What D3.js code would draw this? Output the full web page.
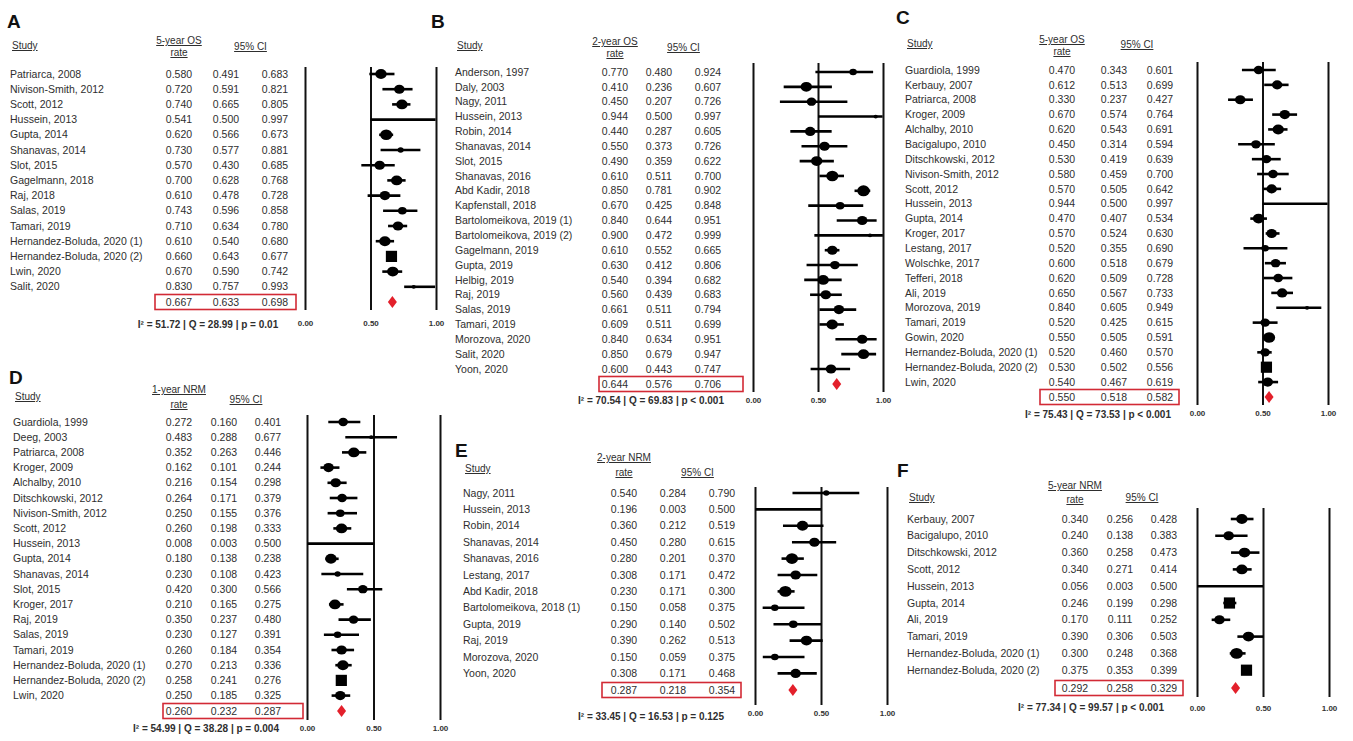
<!DOCTYPE html>
<html>
<head>
<meta charset="utf-8">
<script src="https://cdn.jsdelivr.net/npm/d3@7"></script>
<style>
  body { margin: 0; background: #fff; }
  svg text { font-family: "Liberation Sans", Arial, sans-serif; fill: #2e2e2e; }
  .letter { font-size: 19px; font-weight: bold; fill: #111; }
  .hdr { font-size: 10px; text-decoration: underline; }
  .cell { font-size: 10.5px; }
  .stat { font-size: 10px; font-weight: bold; }
  .tick text { font-size: 8px; font-weight: bold; fill: #333; }
</style>
</head>
<body>
<svg id="chart" width="1353" height="741"></svg>
<script>
// ---- data ----
const tickVals = [0, 0.5, 1];

// A: 5-year OS
const aStudies = ['Patriarca, 2008', 'Nivison-Smith, 2012', 'Scott, 2012', 'Hussein, 2013', 'Gupta, 2014',
  'Shanavas, 2014', 'Slot, 2015', 'Gagelmann, 2018', 'Raj, 2018', 'Salas, 2019', 'Tamari, 2019',
  'Hernandez-Boluda, 2020 (1)', 'Hernandez-Boluda, 2020 (2)', 'Lwin, 2020', 'Salit, 2020'];
const aRate = [0.580, 0.720, 0.740, 0.541, 0.620, 0.730, 0.570, 0.700, 0.610, 0.743, 0.710, 0.610, 0.660, 0.670, 0.830];
const aLo   = [0.491, 0.591, 0.665, 0.500, 0.566, 0.577, 0.430, 0.628, 0.478, 0.596, 0.634, 0.540, 0.643, 0.590, 0.757];
const aHi   = [0.683, 0.821, 0.805, 0.997, 0.673, 0.881, 0.685, 0.768, 0.728, 0.858, 0.780, 0.680, 0.677, 0.742, 0.993];
const aWt   = [7, 6, 7, 0, 8, 2, 6, 7, 6, 4, 6, 7, 9, 7, 1];
const aPooled = [0.667, 0.633, 0.698];
const aStats = 'I² = 51.72 | Q = 28.99 | p = 0.01';

// B: 2-year OS
const bStudies = ['Anderson, 1997', 'Daly, 2003', 'Nagy, 2011', 'Hussein, 2013', 'Robin, 2014', 'Shanavas, 2014',
  'Slot, 2015', 'Shanavas, 2016', 'Abd Kadir, 2018', 'Kapfenstall, 2018', 'Bartolomeikova, 2019 (1)',
  'Bartolomeikova, 2019 (2)', 'Gagelmann, 2019', 'Gupta, 2019', 'Helbig, 2019', 'Raj, 2019', 'Salas, 2019',
  'Tamari, 2019', 'Morozova, 2020', 'Salit, 2020', 'Yoon, 2020'];
const bRate = [0.770, 0.410, 0.450, 0.944, 0.440, 0.550, 0.490, 0.610, 0.850, 0.670, 0.840, 0.900, 0.610, 0.630, 0.540, 0.560, 0.661, 0.609, 0.840, 0.850, 0.600];
const bLo   = [0.480, 0.236, 0.207, 0.500, 0.287, 0.373, 0.359, 0.511, 0.781, 0.425, 0.644, 0.472, 0.552, 0.412, 0.394, 0.439, 0.511, 0.511, 0.634, 0.679, 0.443];
const bHi   = [0.924, 0.607, 0.726, 0.997, 0.605, 0.726, 0.622, 0.700, 0.902, 0.848, 0.951, 0.999, 0.665, 0.806, 0.682, 0.683, 0.794, 0.699, 0.951, 0.947, 0.747];
const bWt   = [3, 7, 5, 1, 6, 6, 7, 8, 8.5, 4, 6, 1, 6, 5, 7, 6, 6, 7, 6, 7, 6];
const bPooled = [0.644, 0.576, 0.706];
const bStats = 'I² = 70.54 | Q = 69.83 | p < 0.001';

// C: 5-year OS
const cStudies = ['Guardiola, 1999', 'Kerbauy, 2007', 'Patriarca, 2008', 'Kroger, 2009', 'Alchalby, 2010',
  'Bacigalupo, 2010', 'Ditschkowski, 2012', 'Nivison-Smith, 2012', 'Scott, 2012', 'Hussein, 2013', 'Gupta, 2014',
  'Kroger, 2017', 'Lestang, 2017', 'Wolschke, 2017', 'Tefferi, 2018', 'Ali, 2019', 'Morozova, 2019',
  'Tamari, 2019', 'Gowin, 2020', 'Hernandez-Boluda, 2020 (1)', 'Hernandez-Boluda, 2020 (2)', 'Lwin, 2020'];
const cRate = [0.470, 0.612, 0.330, 0.670, 0.620, 0.450, 0.530, 0.580, 0.570, 0.944, 0.470, 0.570, 0.520, 0.600, 0.620, 0.650, 0.840, 0.520, 0.550, 0.520, 0.530, 0.540];
const cLo   = [0.343, 0.513, 0.237, 0.574, 0.543, 0.314, 0.419, 0.459, 0.505, 0.500, 0.407, 0.524, 0.355, 0.518, 0.509, 0.567, 0.605, 0.425, 0.505, 0.460, 0.502, 0.467];
const cHi   = [0.601, 0.699, 0.427, 0.764, 0.691, 0.594, 0.639, 0.700, 0.642, 0.997, 0.534, 0.630, 0.690, 0.679, 0.728, 0.733, 0.949, 0.615, 0.591, 0.570, 0.556, 0.619];
const cWt   = [5, 6, 6, 6, 7, 5, 5, 5, 6, 0, 7, 6, 3, 5, 5, 6, 1, 5, 8, 5, 9, 6];
const cPooled = [0.550, 0.518, 0.582];
const cStats = 'I² = 75.43 | Q = 73.53 | p < 0.001';

// D: 1-year NRM
const dStudies = ['Guardiola, 1999', 'Deeg, 2003', 'Patriarca, 2008', 'Kroger, 2009', 'Alchalby, 2010',
  'Ditschkowski, 2012', 'Nivison-Smith, 2012', 'Scott, 2012', 'Hussein, 2013', 'Gupta, 2014', 'Shanavas, 2014',
  'Slot, 2015', 'Kroger, 2017', 'Raj, 2019', 'Salas, 2019', 'Tamari, 2019', 'Hernandez-Boluda, 2020 (1)',
  'Hernandez-Boluda, 2020 (2)', 'Lwin, 2020'];
const dRate = [0.272, 0.483, 0.352, 0.162, 0.216, 0.264, 0.250, 0.260, 0.008, 0.180, 0.230, 0.420, 0.210, 0.350, 0.230, 0.260, 0.270, 0.258, 0.250];
const dLo   = [0.160, 0.288, 0.263, 0.101, 0.154, 0.171, 0.155, 0.198, 0.003, 0.138, 0.108, 0.300, 0.165, 0.237, 0.127, 0.184, 0.213, 0.241, 0.185];
const dHi   = [0.401, 0.677, 0.446, 0.244, 0.298, 0.379, 0.376, 0.333, 0.500, 0.238, 0.423, 0.566, 0.275, 0.480, 0.391, 0.354, 0.336, 0.276, 0.325];
const dWt   = [5, 1, 7, 6, 6, 5, 4, 7, 0, 7, 2, 5, 7, 5, 3, 6, 7, 9, 6];
const dPooled = [0.260, 0.232, 0.287];
const dStats = 'I² = 54.99 | Q = 38.28 | p = 0.004';

// E: 2-year NRM
const eStudies = ['Nagy, 2011', 'Hussein, 2013', 'Robin, 2014', 'Shanavas, 2014', 'Shanavas, 2016',
  'Lestang, 2017', 'Abd Kadir, 2018', 'Bartolomeikova, 2018 (1)', 'Gupta, 2019', 'Raj, 2019',
  'Morozova, 2020', 'Yoon, 2020'];
const eRate = [0.540, 0.196, 0.360, 0.450, 0.280, 0.308, 0.230, 0.150, 0.290, 0.390, 0.150, 0.308];
const eLo   = [0.284, 0.003, 0.212, 0.280, 0.201, 0.171, 0.171, 0.058, 0.140, 0.262, 0.059, 0.171];
const eHi   = [0.790, 0.500, 0.519, 0.615, 0.370, 0.472, 0.300, 0.375, 0.502, 0.513, 0.375, 0.468];
const eWt   = [2, 0, 7, 6, 8, 6, 8.5, 3, 4, 7, 3, 6];
const ePooled = [0.287, 0.218, 0.354];
const eStats = 'I² = 33.45 | Q = 16.53 | p = 0.125';

// F: 5-year NRM
const fStudies = ['Kerbauy, 2007', 'Bacigalupo, 2010', 'Ditschkowski, 2012', 'Scott, 2012', 'Hussein, 2013',
  'Gupta, 2014', 'Ali, 2019', 'Tamari, 2019', 'Hernandez-Boluda, 2020 (1)', 'Hernandez-Boluda, 2020 (2)'];
const fRate = [0.340, 0.240, 0.360, 0.340, 0.056, 0.246, 0.170, 0.390, 0.300, 0.375];
const fLo   = [0.256, 0.138, 0.258, 0.271, 0.003, 0.199, 0.111, 0.306, 0.248, 0.353];
const fHi   = [0.428, 0.383, 0.473, 0.414, 0.500, 0.298, 0.252, 0.503, 0.368, 0.399];
const fWt   = [7, 6, 7, 7, 0, 9, 6, 7, 8.5, 9];
const fPooled = [0.292, 0.258, 0.329];
const fStats = 'I² = 77.34 | Q = 99.57 | p < 0.001';

// ---- layout per panel ----
const panels = [
  { id: 'A', title: '5-year OS', studies: aStudies, rate: aRate, lo: aLo, hi: aHi, wt: aWt, pooled: aPooled, stats: aStats,
    letter: [7, 28], nameX: 10, rateX: 179, loX: 226, hiX: 275, titleY: 44, rateY: 56, studyY: 49, ciY: 50,
    row0: 74, step: 15.2, sumY: 302, statX: 208, statY: 328, x0: 305, x1: 436, top: 67, bottom: 310, tickY: 323, box: [155, 296] },
  { id: 'B', title: '2-year OS', studies: bStudies, rate: bRate, lo: bLo, hi: bHi, wt: bWt, pooled: bPooled, stats: bStats,
    letter: [431, 28], nameX: 455, rateX: 615, loX: 659, hiX: 708, titleY: 45, rateY: 57, studyY: 49, ciY: 51,
    row0: 72, step: 14.85, sumY: 384, statX: 651, statY: 404, x0: 753, x1: 883, top: 63, bottom: 392, tickY: 400, box: [599, 743] },
  { id: 'C', title: '5-year OS', studies: cStudies, rate: cRate, lo: cLo, hi: cHi, wt: cWt, pooled: cPooled, stats: cStats,
    letter: [896, 24], nameX: 905, rateX: 1062, loX: 1114, hiX: 1160, titleY: 43, rateY: 55, studyY: 47, ciY: 48,
    row0: 70, step: 14.86, sumY: 397, statX: 1098, statY: 418, x0: 1197, x1: 1328, top: 62, bottom: 405, tickY: 413, box: [1040, 1179] },
  { id: 'D', title: '1-year NRM', studies: dStudies, rate: dRate, lo: dLo, hi: dHi, wt: dWt, pooled: dPooled, stats: dStats,
    letter: [9, 384], nameX: 13, rateX: 179, loX: 224, hiX: 268, titleY: 393, rateY: 408, studyY: 400, ciY: 403,
    row0: 422, step: 15.2, sumY: 711, statX: 206, statY: 732, x0: 307, x1: 440, top: 415, bottom: 720, tickY: 728, box: [163, 303] },
  { id: 'E', title: '2-year NRM', studies: eStudies, rate: eRate, lo: eLo, hi: eHi, wt: eWt, pooled: ePooled, stats: eStats,
    letter: [455, 457], nameX: 463, rateX: 624, loX: 673, hiX: 722, titleY: 461, rateY: 476, studyY: 472, ciY: 476,
    row0: 493, step: 16.4, sumY: 690, statX: 651, statY: 720, x0: 755, x1: 887, top: 487, bottom: 705, tickY: 713, box: [602, 741] },
  { id: 'F', title: '5-year NRM', studies: fStudies, rate: fRate, lo: fLo, hi: fHi, wt: fWt, pooled: fPooled, stats: fStats,
    letter: [897, 477], nameX: 907, rateX: 1075, loX: 1120, hiX: 1164, titleY: 489, rateY: 503, studyY: 501, ciY: 501,
    row0: 519, step: 16.8, sumY: 688, statX: 1091, statY: 711, x0: 1197, x1: 1329, top: 508, bottom: 697, tickY: 708, box: [1055, 1183] }
];

const svg = d3.select('#chart');
const fmt = d3.format('.3f');

function drawPanel(p) {
  const g = svg.append('g');
  const n = p.studies.length;
  const x = d3.scaleLinear().domain([0, 1]).range([p.x0, p.x1]);
  const y = d3.scaleLinear().domain([0, n - 1]).range([p.row0, p.row0 + (n - 1) * p.step]);
  const size = d3.scaleSqrt().domain([0, 9]).range([0, 5.6]);

  g.append('text').attr('class', 'letter').attr('x', p.letter[0]).attr('y', p.letter[1]).text(p.id);

  // headers
  g.append('text').attr('class', 'hdr').attr('x', p.nameX + 2).attr('y', p.studyY).text('Study');
  g.append('text').attr('class', 'hdr').attr('x', p.rateX).attr('y', p.titleY).attr('text-anchor', 'middle').text(p.title);
  g.append('text').attr('class', 'hdr').attr('x', p.rateX).attr('y', p.rateY).attr('text-anchor', 'middle').text('rate');
  g.append('text').attr('class', 'hdr').attr('x', (p.loX + p.hiX) / 2).attr('y', p.ciY).attr('text-anchor', 'middle').text('95% CI');

  // table rows
  const rows = g.selectAll('g.row')
    .data(p.studies.map((s, i) => ({ s, i, r: p.rate[i], lo: p.lo[i], hi: p.hi[i], w: p.wt[i] })))
    .enter().append('g').attr('class', 'row')
    .attr('transform', d => `translate(0,${y(d.i)})`);
  rows.append('text').attr('class', 'cell').attr('x', p.nameX).attr('dy', '0.35em').text(d => d.s);
  rows.append('text').attr('class', 'cell').attr('x', p.rateX).attr('dy', '0.35em').attr('text-anchor', 'middle').text(d => fmt(d.r));
  rows.append('text').attr('class', 'cell').attr('x', p.loX).attr('dy', '0.35em').attr('text-anchor', 'middle').text(d => fmt(d.lo));
  rows.append('text').attr('class', 'cell').attr('x', p.hiX).attr('dy', '0.35em').attr('text-anchor', 'middle').text(d => fmt(d.hi));

  // pooled row + red box
  const sum = g.append('g').attr('transform', `translate(0,${p.sumY})`);
  sum.append('rect').attr('x', p.box[0]).attr('y', -7.5).attr('width', p.box[1] - p.box[0]).attr('height', 15)
    .attr('fill', 'none').attr('stroke', '#d22a35').attr('stroke-width', 1.6);
  [p.rateX, p.loX, p.hiX].forEach((cx, k) => {
    sum.append('text').attr('class', 'cell').attr('x', cx).attr('dy', '0.35em').attr('text-anchor', 'middle').text(fmt(p.pooled[k]));
  });

  g.append('text').attr('class', 'stat').attr('x', p.statX).attr('y', p.statY).attr('text-anchor', 'middle').text(p.stats);

  // axis with full-height reference lines
  const axis = d3.axisBottom(x).tickValues(tickVals).tickFormat(d3.format('.2f'))
    .tickSize(-(p.bottom - p.top)).tickPadding(p.tickY - p.bottom - 3);
  g.append('g').attr('transform', `translate(0,${p.bottom})`).call(axis)
    .call(a => a.select('.domain').remove())
    .call(a => a.selectAll('.tick line').attr('stroke', '#111').attr('stroke-width', 2));

  // CI lines and study markers
  const plot = g.append('g');
  plot.selectAll('line.ci').data(rows.data()).enter().append('line')
    .attr('x1', d => x(d.lo)).attr('x2', d => x(d.hi))
    .attr('y1', d => y(d.i)).attr('y2', d => y(d.i))
    .attr('stroke', '#000').attr('stroke-width', 2.6);
  plot.selectAll('ellipse').data(rows.data().filter(d => d.w > 0 && d.w < 9)).enter().append('ellipse')
    .attr('cx', d => x(d.r)).attr('cy', d => y(d.i))
    .attr('rx', d => size(d.w) * 1.15).attr('ry', d => size(d.w)).attr('fill', '#000');
  plot.selectAll('rect').data(rows.data().filter(d => d.w >= 9)).enter().append('rect')
    .attr('x', d => x(d.r) - size(d.w)).attr('y', d => y(d.i) - size(d.w))
    .attr('width', d => 2 * size(d.w)).attr('height', d => 2 * size(d.w)).attr('fill', '#000');

  // pooled diamond
  const cx = x(p.pooled[0]), cy = p.sumY;
  plot.append('path')
    .attr('d', `M${cx - 4.5},${cy}L${cx},${cy - 6}L${cx + 4.5},${cy}L${cx},${cy + 6}Z`)
    .attr('fill', '#e3202b');
}

panels.forEach(drawPanel);
</script>
</body>
</html>
